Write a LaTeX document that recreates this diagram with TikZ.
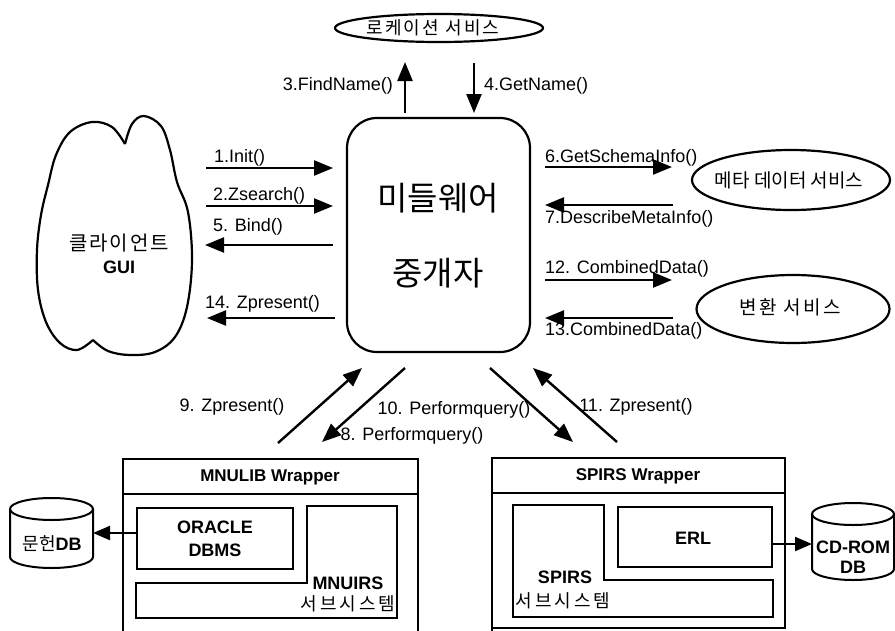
\documentclass[tikz,border=0pt]{standalone}
\usepackage{fontspec}
\setmainfont{Liberation Sans}
\newfontfamily\kr{Noto Sans CJK KR}
\usetikzlibrary{arrows.meta,shapes.geometric}
\begin{document}
\begin{tikzpicture}[x=1pt,y=-1pt,
  every node/.style={inner sep=0pt},
  arr/.style={line width=2.4pt,-{Triangle[length=19pt,width=15pt]}},
  thinarr/.style={line width=2.2pt,-{Triangle[length=17pt,width=14pt]}},
  lbl/.style={font=\fontsize{18}{20}\selectfont},
  btxt/.style={font=\fontsize{18}{22}\selectfont\bfseries,align=center},
  ktxt/.style={font=\kr\fontsize{19}{20}\selectfont},
  box/.style={draw,line width=2pt},
  svc/.style={draw,ellipse,line width=2.2pt}]
\useasboundingbox (0,0) rectangle (895,630);

% middleware
\node[draw,rounded corners=30pt,minimum width=183pt,minimum height=234pt,line width=2.2pt] (mw) at (438.5,235) {};
\node[font=\kr\fontsize{33}{34}\selectfont] (mwt1) at (438,198) {미들웨어};
\node[font=\kr\fontsize{33}{34}\selectfont] (mwt2) at (438,273) {중개자};

% location service
\node[svc,minimum width=208pt,minimum height=28pt] (loc) at (439,28) {};
\node[font=\kr\fontsize{18}{19}\selectfont\addfontfeature{LetterSpace=12}] (loct) at (433,28) {로케이션 서비스};

% meta service
\node[svc,minimum width=198pt,minimum height=60pt] (meta) at (791,180) {};
\node[ktxt] (metat) at (789,180) {메타 데이터 서비스};

% transform service
\node[svc,minimum width=193pt,minimum height=68pt] (conv) at (793,309) {};
\node[font=\kr\fontsize{19}{20}\selectfont\addfontfeature{LetterSpace=13}] (convt) at (790,307) {변환 서비스};

% cloud
\draw[line width=2.2pt] plot[smooth,tension=0.6] coordinates {(125,144) (112,127) (92,122) (70,132) (56,155) (48,185) (41,215) (37,250) (38,290) (46,322) (60,343) (77,350) (93,340)};
\draw[line width=2.2pt] plot[smooth,tension=0.6] coordinates {(93,340) (108,351) (130,355) (155,352) (175,337) (187,307) (192,260) (188,212) (177,182) (170,150) (161,126) (144,116) (132,124) (125,144)};
\node[font=\kr\fontsize{20}{21}\selectfont\addfontfeature{LetterSpace=10}] (cl) at (119,243) {클라이언트};
\node[btxt] (gui) at (119,267) {GUI};

% arrows 3, 4
\coordinate (a3s) at (405,113); \coordinate (a3e) at (405,62);
\draw[arr] (a3s) -- (a3e);
\node[lbl,anchor=east] (l3) at (393,86) {3.FindName()};
\coordinate (a4s) at (474,63); \coordinate (a4e) at (474,113);
\draw[arr] (a4s) -- (a4e);
\node[lbl,anchor=west] (l4) at (484,86) {4.GetName()};

% left arrows
\coordinate (a1s) at (206,168); \coordinate (a1e) at (333,168);
\draw[arr] (a1s) -- (a1e);
\node[lbl,anchor=west] (l1) at (214,158) {1.Init()};
\coordinate (a2s) at (206,206); \coordinate (a2e) at (333,206);
\draw[arr] (a2s) -- (a2e);
\node[lbl,anchor=west] (l2) at (213,196) {2.Zsearch()};
\coordinate (a5s) at (333,245); \coordinate (a5e) at (205,245);
\draw[arr] (a5s) -- (a5e);
\node[lbl,anchor=west] (l5) at (213,227) {5. Bind()};
\coordinate (a14s) at (335,318); \coordinate (a14e) at (207,318);
\draw[arr] (a14s) -- (a14e);
\node[lbl,anchor=west] (l14) at (205,304) {14. Zpresent()};

% right arrows
\coordinate (a6s) at (545,167); \coordinate (a6e) at (672,167);
\draw[arr] (a6s) -- (a6e);
\node[lbl,anchor=west] (l6) at (545,158) {6.GetSchemaInfo()};
\coordinate (a7s) at (673,205); \coordinate (a7e) at (545,205);
\draw[arr] (a7s) -- (a7e);
\node[lbl,anchor=west] (l7) at (545,219) {7.DescribeMetaInfo()};
\coordinate (a12s) at (545,280); \coordinate (a12e) at (672,280);
\draw[arr] (a12s) -- (a12e);
\node[lbl,anchor=west] (l12) at (545,269) {12. CombinedData()};
\coordinate (a13s) at (673,318); \coordinate (a13e) at (545,318);
\draw[arr] (a13s) -- (a13e);
\node[lbl,anchor=west] (l13) at (545,331) {13.CombinedData()};

% diagonal arrows
\coordinate (a9s) at (278,443); \coordinate (a9e) at (362,368);
\draw[arr] (a9s) -- (a9e);
\node[lbl] (l9) at (232,407) {9. Zpresent()};
\coordinate (a8s) at (405,368); \coordinate (a8e) at (322,442);
\draw[arr] (a8s) -- (a8e);
\node[lbl] (l8) at (412,436) {8. Performquery()};
\coordinate (a10s) at (490,368); \coordinate (a10e) at (573,442);
\draw[arr] (a10s) -- (a10e);
\node[lbl] (l10) at (454,410) {10. Performquery()};
\coordinate (a11s) at (617,442); \coordinate (a11e) at (533,368);
\draw[arr] (a11s) -- (a11e);
\node[lbl] (l11) at (636,407) {11. Zpresent()};

% MNULIB wrapper
\draw[box] (123,632) -- (123,459) -- (418,459) -- (418,632);
\draw[box] (123,494) -- (418,494);
\node[btxt,font=\fontsize{17}{20}\selectfont\bfseries] (mnw) at (270,477) {MNULIB Wrapper};
\node[box,minimum width=156pt,minimum height=61pt] (ora) at (215,538.5) {};
\node[btxt] (orat) at (215,538.5) {ORACLE\\[1pt]DBMS};
\draw[box] (307,506) -- (397,506) -- (397,618) -- (136,618) -- (136,583) -- (307,583) -- cycle;
\node[btxt] (mnu) at (348,583) {MNUIRS};
\node[font=\kr\fontsize{18}{19}\selectfont\addfontfeature{LetterSpace=16}] (mnus) at (348,604) {서브시스템};

% literature DB cylinder
\draw[line width=2pt] (10,509) -- (10,557) arc[start angle=180,end angle=360,x radius=41.5pt,y radius=11pt] -- (93,509);
\draw[line width=2pt] (51.5,509) ellipse[x radius=41.5pt,y radius=11pt];
\node (db1) at (52,544) {{\kr\fontsize{18}{19}\selectfont 문헌}{\fontsize{18}{19}\selectfont\bfseries DB}};
\coordinate (oraw) at (137,533); \coordinate (db1e) at (93,533);
\draw[thinarr] (oraw) -- (db1e);

% SPIRS wrapper
\draw[box] (492,632) -- (492,458) -- (785,458) -- (785,628) -- (492,628);
\draw[box] (492,493) -- (785,493);
\node[btxt,font=\fontsize{17}{20}\selectfont\bfseries] (spw) at (638,476) {SPIRS Wrapper};
\draw[box] (513,505) -- (604,505) -- (604,580) -- (773,580) -- (773,617) -- (513,617) -- cycle;
\node[box,minimum width=154pt,minimum height=60pt] (erl) at (695,537) {};
\node[btxt] (erlt) at (693,538) {ERL};
\node[btxt] (spt) at (565,577) {SPIRS};
\node[font=\kr\fontsize{18}{19}\selectfont\addfontfeature{LetterSpace=16}] (sps) at (563,601) {서브시스템};

% CD-ROM cylinder
\draw[line width=2pt] (812,514) -- (812,569) arc[start angle=180,end angle=360,x radius=41pt,y radius=11pt] -- (894,514);
\draw[line width=2pt] (853,514) ellipse[x radius=41pt,y radius=11pt];
\node[btxt] (cd) at (853,557) {CD-ROM\\[-2pt]DB};
\coordinate (erle) at (772,544); \coordinate (cdw) at (812,544);
\draw[thinarr] (erle) -- (cdw);
\end{tikzpicture}
\end{document}
